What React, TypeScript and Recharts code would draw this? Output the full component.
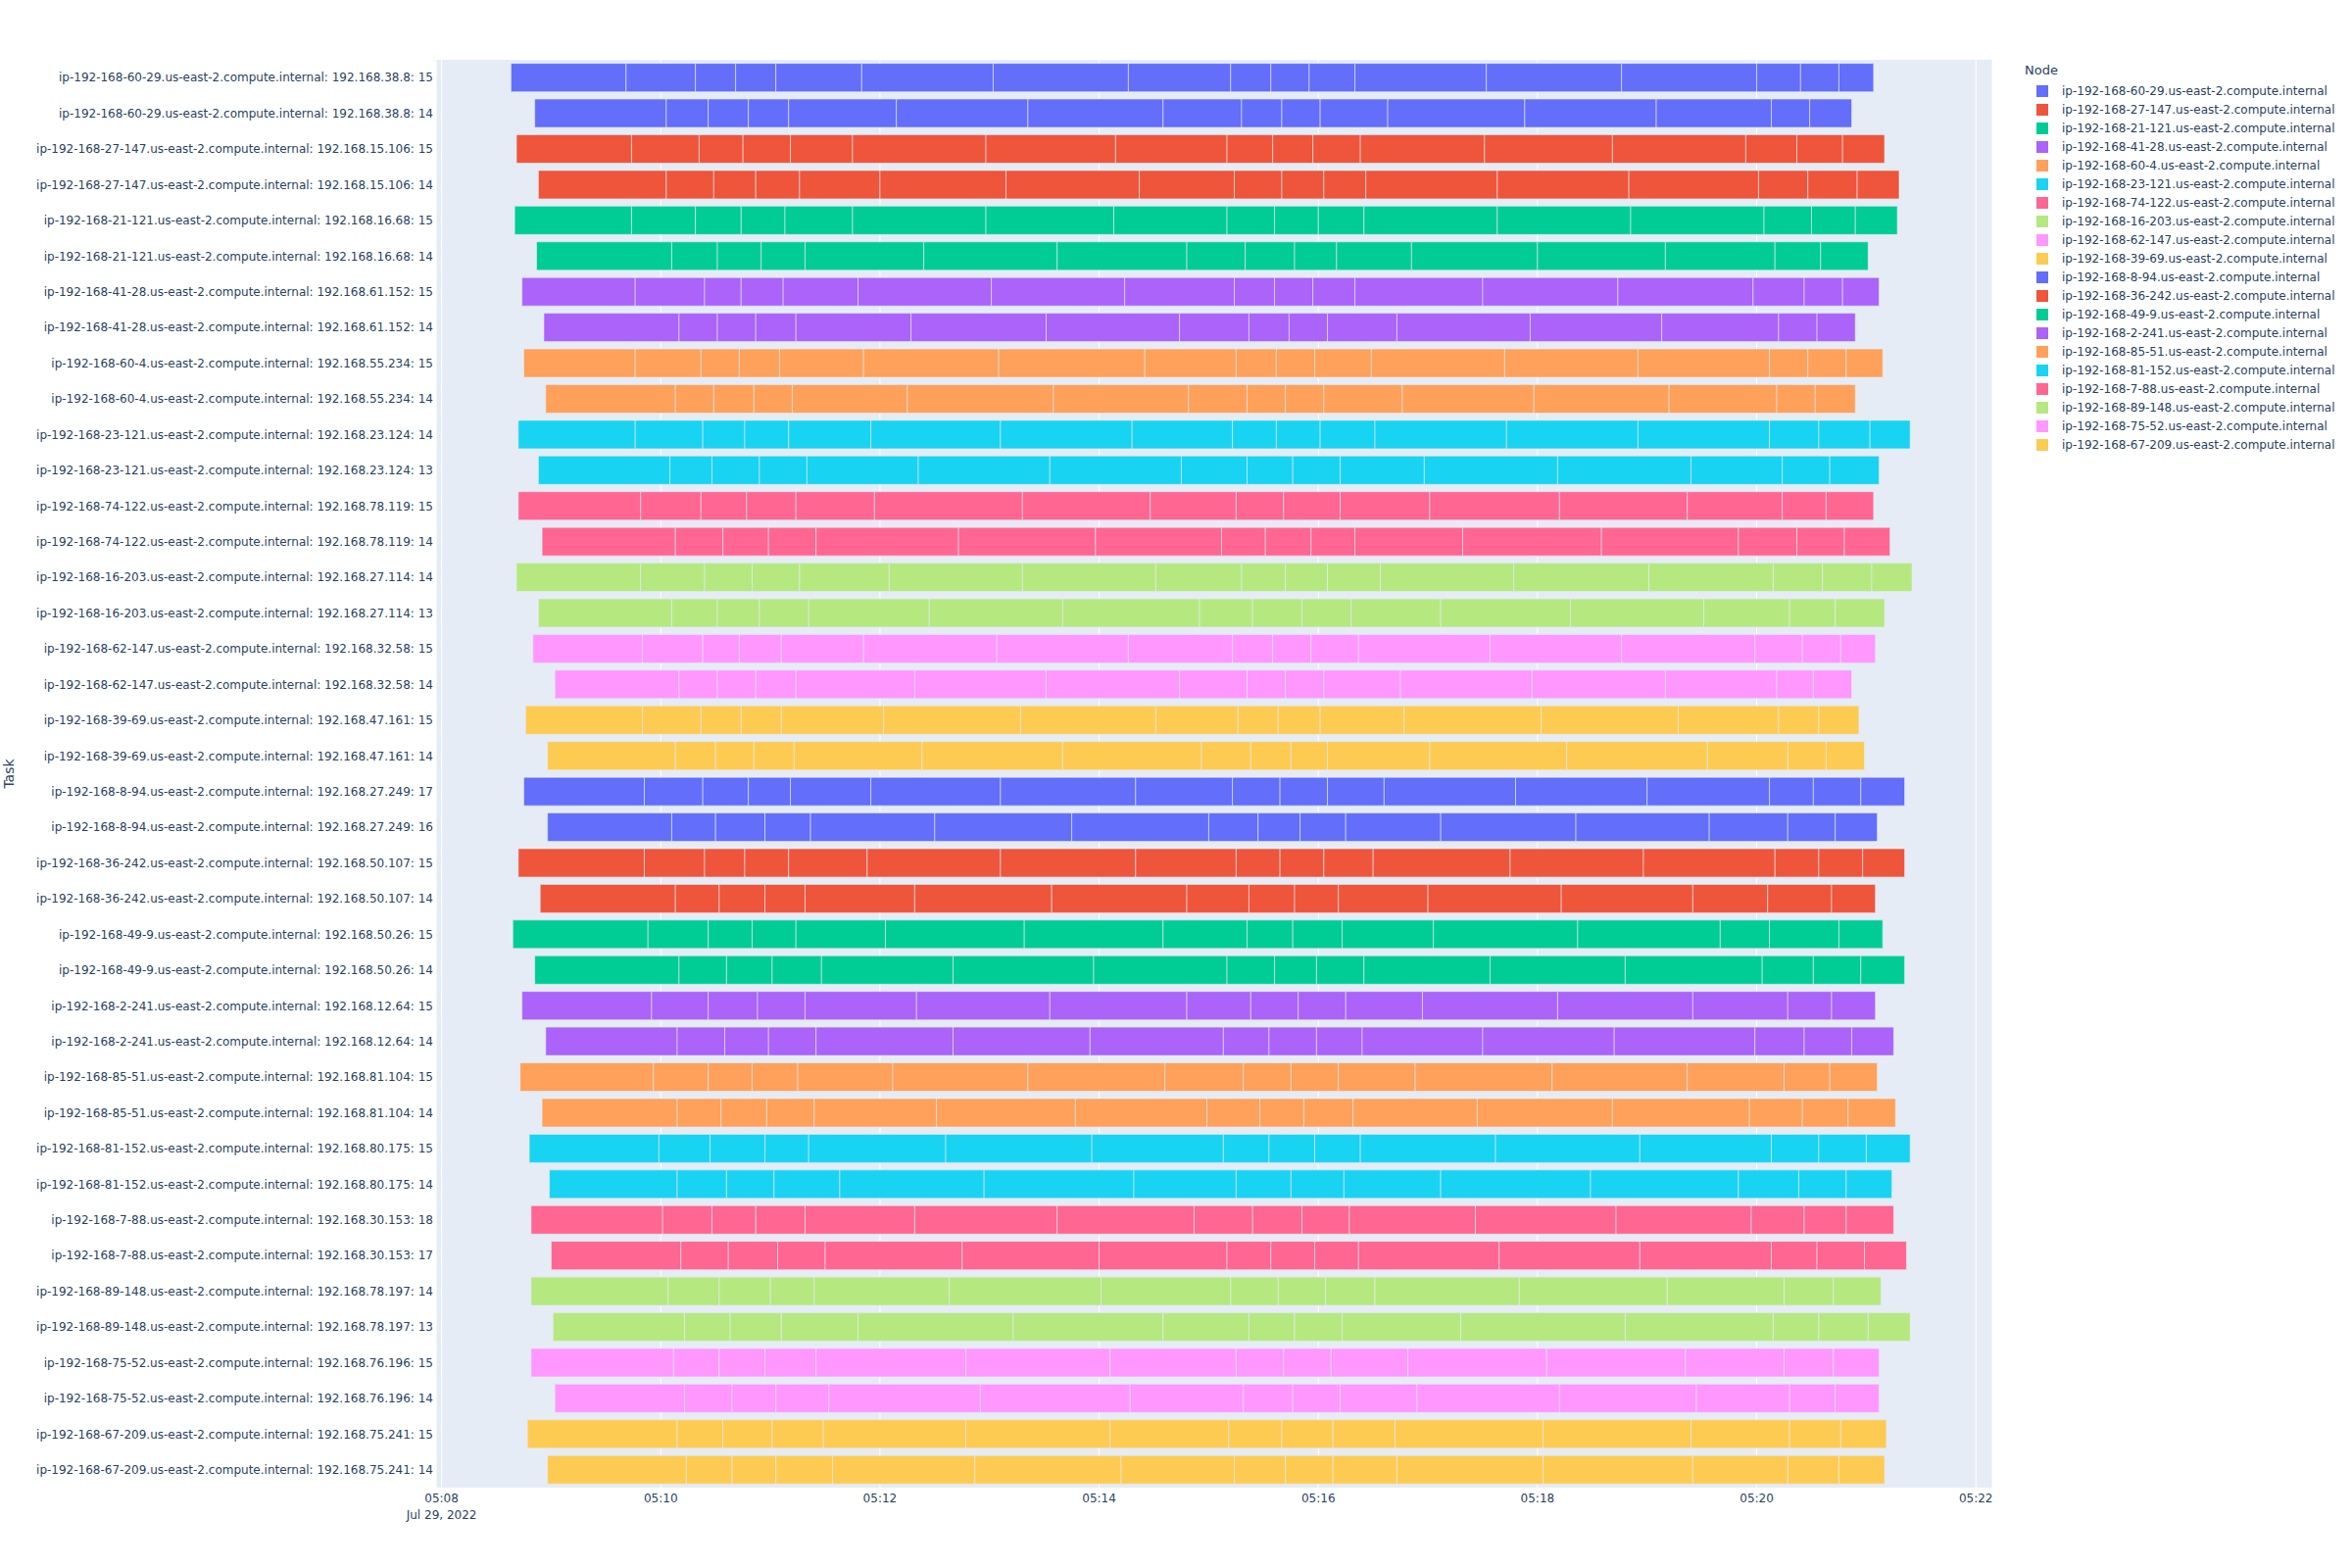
import { BarChart, Bar, XAxis, YAxis, CartesianGrid, Cell } from "recharts";

const nodeNames = [
  "ip-192-168-60-29.us-east-2.compute.internal",
  "ip-192-168-27-147.us-east-2.compute.internal",
  "ip-192-168-21-121.us-east-2.compute.internal",
  "ip-192-168-41-28.us-east-2.compute.internal",
  "ip-192-168-60-4.us-east-2.compute.internal",
  "ip-192-168-23-121.us-east-2.compute.internal",
  "ip-192-168-74-122.us-east-2.compute.internal",
  "ip-192-168-16-203.us-east-2.compute.internal",
  "ip-192-168-62-147.us-east-2.compute.internal",
  "ip-192-168-39-69.us-east-2.compute.internal",
  "ip-192-168-8-94.us-east-2.compute.internal",
  "ip-192-168-36-242.us-east-2.compute.internal",
  "ip-192-168-49-9.us-east-2.compute.internal",
  "ip-192-168-2-241.us-east-2.compute.internal",
  "ip-192-168-85-51.us-east-2.compute.internal",
  "ip-192-168-81-152.us-east-2.compute.internal",
  "ip-192-168-7-88.us-east-2.compute.internal",
  "ip-192-168-89-148.us-east-2.compute.internal",
  "ip-192-168-75-52.us-east-2.compute.internal",
  "ip-192-168-67-209.us-east-2.compute.internal",
];

const palette = [
  "#636efa", "#EF553B", "#00cc96", "#ab63fa", "#FFA15A",
  "#19d3f3", "#FF6692", "#B6E880", "#FF97FF", "#FECB52",
];

const taskLabels = [
  "ip-192-168-60-29.us-east-2.compute.internal: 192.168.38.8: 15",
  "ip-192-168-60-29.us-east-2.compute.internal: 192.168.38.8: 14",
  "ip-192-168-27-147.us-east-2.compute.internal: 192.168.15.106: 15",
  "ip-192-168-27-147.us-east-2.compute.internal: 192.168.15.106: 14",
  "ip-192-168-21-121.us-east-2.compute.internal: 192.168.16.68: 15",
  "ip-192-168-21-121.us-east-2.compute.internal: 192.168.16.68: 14",
  "ip-192-168-41-28.us-east-2.compute.internal: 192.168.61.152: 15",
  "ip-192-168-41-28.us-east-2.compute.internal: 192.168.61.152: 14",
  "ip-192-168-60-4.us-east-2.compute.internal: 192.168.55.234: 15",
  "ip-192-168-60-4.us-east-2.compute.internal: 192.168.55.234: 14",
  "ip-192-168-23-121.us-east-2.compute.internal: 192.168.23.124: 14",
  "ip-192-168-23-121.us-east-2.compute.internal: 192.168.23.124: 13",
  "ip-192-168-74-122.us-east-2.compute.internal: 192.168.78.119: 15",
  "ip-192-168-74-122.us-east-2.compute.internal: 192.168.78.119: 14",
  "ip-192-168-16-203.us-east-2.compute.internal: 192.168.27.114: 14",
  "ip-192-168-16-203.us-east-2.compute.internal: 192.168.27.114: 13",
  "ip-192-168-62-147.us-east-2.compute.internal: 192.168.32.58: 15",
  "ip-192-168-62-147.us-east-2.compute.internal: 192.168.32.58: 14",
  "ip-192-168-39-69.us-east-2.compute.internal: 192.168.47.161: 15",
  "ip-192-168-39-69.us-east-2.compute.internal: 192.168.47.161: 14",
  "ip-192-168-8-94.us-east-2.compute.internal: 192.168.27.249: 17",
  "ip-192-168-8-94.us-east-2.compute.internal: 192.168.27.249: 16",
  "ip-192-168-36-242.us-east-2.compute.internal: 192.168.50.107: 15",
  "ip-192-168-36-242.us-east-2.compute.internal: 192.168.50.107: 14",
  "ip-192-168-49-9.us-east-2.compute.internal: 192.168.50.26: 15",
  "ip-192-168-49-9.us-east-2.compute.internal: 192.168.50.26: 14",
  "ip-192-168-2-241.us-east-2.compute.internal: 192.168.12.64: 15",
  "ip-192-168-2-241.us-east-2.compute.internal: 192.168.12.64: 14",
  "ip-192-168-85-51.us-east-2.compute.internal: 192.168.81.104: 15",
  "ip-192-168-85-51.us-east-2.compute.internal: 192.168.81.104: 14",
  "ip-192-168-81-152.us-east-2.compute.internal: 192.168.80.175: 15",
  "ip-192-168-81-152.us-east-2.compute.internal: 192.168.80.175: 14",
  "ip-192-168-7-88.us-east-2.compute.internal: 192.168.30.153: 18",
  "ip-192-168-7-88.us-east-2.compute.internal: 192.168.30.153: 17",
  "ip-192-168-89-148.us-east-2.compute.internal: 192.168.78.197: 14",
  "ip-192-168-89-148.us-east-2.compute.internal: 192.168.78.197: 13",
  "ip-192-168-75-52.us-east-2.compute.internal: 192.168.76.196: 15",
  "ip-192-168-75-52.us-east-2.compute.internal: 192.168.76.196: 14",
  "ip-192-168-67-209.us-east-2.compute.internal: 192.168.75.241: 15",
  "ip-192-168-67-209.us-east-2.compute.internal: 192.168.75.241: 14",
];

// start of each task chunk plus the final end, in seconds after 05:08:00 (Jul 29, 2022)
const taskEdges = [
  [38, 101, 139, 161, 183, 230, 302, 376, 432, 454, 475, 500, 572, 646, 720, 744, 765, 784],
  [51, 123, 146, 168, 190, 249, 321, 395, 438, 460, 481, 518, 593, 665, 728, 749, 772],
  [41, 104, 141, 165, 191, 225, 298, 369, 430, 455, 477, 503, 571, 641, 714, 742, 767, 790],
  [53, 123, 149, 172, 196, 240, 309, 382, 434, 460, 483, 506, 578, 650, 721, 748, 775, 798],
  [40, 104, 139, 164, 188, 225, 298, 368, 430, 456, 480, 505, 578, 651, 724, 750, 774, 797],
  [52, 126, 151, 175, 199, 264, 337, 408, 440, 467, 490, 531, 600, 670, 730, 755, 781],
  [44, 106, 144, 164, 187, 228, 301, 374, 434, 456, 477, 500, 570, 644, 718, 746, 767, 787],
  [56, 130, 151, 172, 194, 257, 331, 404, 442, 464, 485, 523, 596, 668, 732, 753, 774],
  [45, 106, 142, 163, 185, 231, 305, 385, 435, 457, 478, 509, 582, 655, 727, 748, 769, 789],
  [57, 128, 149, 171, 192, 255, 335, 409, 441, 462, 483, 526, 598, 672, 731, 752, 774],
  [42, 106, 143, 166, 190, 235, 306, 378, 433, 457, 481, 511, 583, 655, 727, 754, 782, 804],
  [53, 125, 148, 174, 200, 261, 333, 405, 441, 466, 492, 538, 611, 684, 734, 760, 787],
  [42, 109, 142, 167, 194, 237, 318, 388, 435, 461, 492, 541, 612, 682, 734, 758, 784],
  [55, 128, 154, 179, 205, 283, 358, 427, 451, 476, 500, 559, 635, 710, 742, 768, 793],
  [41, 109, 144, 170, 196, 245, 318, 391, 438, 462, 485, 514, 587, 661, 729, 756, 783, 805],
  [53, 126, 151, 174, 201, 267, 340, 415, 444, 471, 498, 547, 618, 691, 738, 763, 790],
  [50, 110, 143, 163, 186, 231, 304, 376, 433, 455, 476, 502, 574, 646, 719, 745, 766, 785],
  [62, 130, 151, 172, 194, 259, 331, 404, 441, 462, 483, 525, 597, 670, 731, 751, 772],
  [46, 110, 142, 164, 186, 242, 317, 391, 436, 458, 481, 527, 602, 677, 732, 754, 776],
  [58, 128, 150, 171, 193, 263, 340, 416, 443, 465, 485, 541, 616, 693, 737, 758, 779],
  [45, 111, 143, 168, 191, 235, 306, 380, 433, 459, 485, 516, 588, 660, 727, 751, 777, 801],
  [58, 126, 150, 177, 202, 270, 345, 420, 447, 470, 495, 547, 621, 694, 737, 763, 786],
  [42, 111, 144, 166, 190, 233, 306, 380, 435, 459, 483, 510, 585, 658, 730, 754, 778, 801],
  [54, 128, 152, 177, 199, 259, 334, 408, 442, 467, 491, 540, 613, 685, 726, 761, 785],
  [39, 113, 146, 170, 194, 243, 319, 395, 441, 466, 493, 543, 622, 700, 727, 765, 789],
  [51, 130, 156, 181, 208, 280, 357, 430, 456, 479, 505, 574, 648, 723, 751, 777, 801],
  [44, 115, 146, 173, 199, 260, 333, 408, 443, 469, 495, 537, 611, 685, 737, 761, 785],
  [57, 129, 155, 179, 205, 280, 355, 428, 453, 479, 504, 570, 642, 719, 746, 772, 795],
  [43, 116, 146, 170, 195, 247, 321, 396, 439, 465, 491, 533, 608, 682, 735, 760, 786],
  [55, 129, 153, 178, 204, 271, 347, 419, 448, 472, 499, 567, 641, 716, 745, 770, 796],
  [48, 119, 147, 177, 201, 276, 356, 428, 453, 478, 503, 577, 656, 728, 754, 780, 804],
  [59, 129, 156, 182, 218, 297, 379, 435, 465, 494, 547, 629, 710, 743, 769, 794],
  [49, 121, 148, 172, 199, 259, 337, 412, 444, 471, 497, 566, 643, 717, 746, 769, 795],
  [60, 131, 157, 184, 210, 285, 360, 430, 454, 478, 502, 579, 656, 728, 753, 779, 802],
  [49, 124, 152, 180, 204, 278, 361, 432, 458, 484, 511, 590, 671, 735, 762, 788],
  [61, 133, 158, 186, 228, 313, 395, 442, 467, 493, 558, 648, 729, 754, 781, 804],
  [49, 127, 152, 177, 205, 287, 366, 435, 461, 487, 529, 605, 681, 735, 762, 787],
  [62, 133, 159, 183, 212, 295, 377, 439, 466, 492, 534, 612, 687, 738, 763, 787],
  [47, 129, 154, 181, 209, 287, 366, 431, 460, 488, 522, 603, 684, 738, 766, 791],
  [58, 134, 159, 183, 214, 292, 372, 434, 462, 488, 523, 603, 685, 737, 765, 790],
];

const timeTicks = [0, 120, 240, 360, 480, 600, 720, 840];

const FONT = '"DejaVu Sans", Verdana, sans-serif';
const TEXT = "#2a3f5f";
const PLOT_BG = "#E5ECF6";

const colorOf = (task: string) =>
  palette[nodeNames.indexOf(task.split(":")[0]) % palette.length];

const segCount = Math.max(...taskEdges.map((e) => e.length - 1));

const rows = taskLabels.map((task, i) => {
  const edges = taskEdges[i];
  const row: Record<string, string | number> = { task, start: edges[0] };
  for (let k = 1; k < edges.length; k++) {
    row[`d${k}`] = edges[k] - edges[k - 1];
  }
  return row;
});

const clock = (sec: number) => {
  const m = 8 + Math.floor(sec / 60);
  return `05:${String(m).padStart(2, "0")}`;
};

const TimeTick = (props: any) => {
  const { x, y, payload, index } = props;
  return (
    <g>
      <text x={x} y={y + 13} textAnchor="middle" fill={TEXT} fontSize={12}>
        {clock(payload.value)}
      </text>
      {index === 0 && (
        <text x={x} y={y + 30} textAnchor="middle" fill={TEXT} fontSize={12}>
          Jul 29, 2022
        </text>
      )}
    </g>
  );
};

const App = () => {
  return (
    <div
      style={{
        position: "absolute",
        left: 0,
        top: 0,
        width: 2400,
        height: 1600,
        background: "#fff",
        fontFamily: FONT,
      }}
    >
      <BarChart
        width={2400}
        height={1600}
        layout="vertical"
        data={rows}
        margin={{ top: 61, right: 367, bottom: 0, left: 0 }}
        barCategoryGap="10%"
      >
        <CartesianGrid horizontal={false} stroke="#fff" strokeWidth={1} fill={PLOT_BG} />
        <XAxis
          type="number"
          domain={[-3, 849]}
          ticks={timeTicks}
          interval={0}
          height={82}
          axisLine={false}
          tickLine={false}
          tickSize={0}
          tick={<TimeTick />}
        />
        <YAxis
          type="category"
          dataKey="task"
          width={445}
          interval={0}
          axisLine={false}
          tickLine={false}
          tickSize={0}
          tickMargin={3}
          tick={{ fontSize: 12, fill: TEXT }}
          label={{
            value: "Task",
            angle: -90,
            position: "insideLeft",
            offset: 9,
            style: { textAnchor: "middle", fontSize: 14, fill: TEXT },
          }}
        />
        <Bar dataKey="start" stackId="t" fill="none" stroke="none" isAnimationActive={false} />
        {Array.from({ length: segCount }, (_, k) => (
          <Bar
            key={k}
            dataKey={`d${k + 1}`}
            stackId="t"
            stroke={PLOT_BG}
            strokeWidth={0.6}
            isAnimationActive={false}
          >
            {rows.map((r, i) => (
              <Cell key={i} fill={colorOf(r.task as string)} />
            ))}
          </Bar>
        ))}
      </BarChart>

      <div
        style={{
          position: "absolute",
          left: 2066,
          top: 64,
          fontSize: 13,
          lineHeight: "16px",
          color: TEXT,
        }}
      >
        Node
      </div>
      {nodeNames.map((n, i) => (
        <div
          key={n}
          style={{
            position: "absolute",
            left: 2078,
            top: 83 + i * 19,
            height: 19,
            display: "flex",
            alignItems: "center",
            fontSize: 12,
            color: TEXT,
            whiteSpace: "nowrap",
          }}
        >
          <span
            style={{
              display: "inline-block",
              width: 12,
              height: 12,
              background: palette[i % palette.length],
              marginRight: 14,
            }}
          />
          {n}
        </div>
      ))}
    </div>
  );
};

export default App;
